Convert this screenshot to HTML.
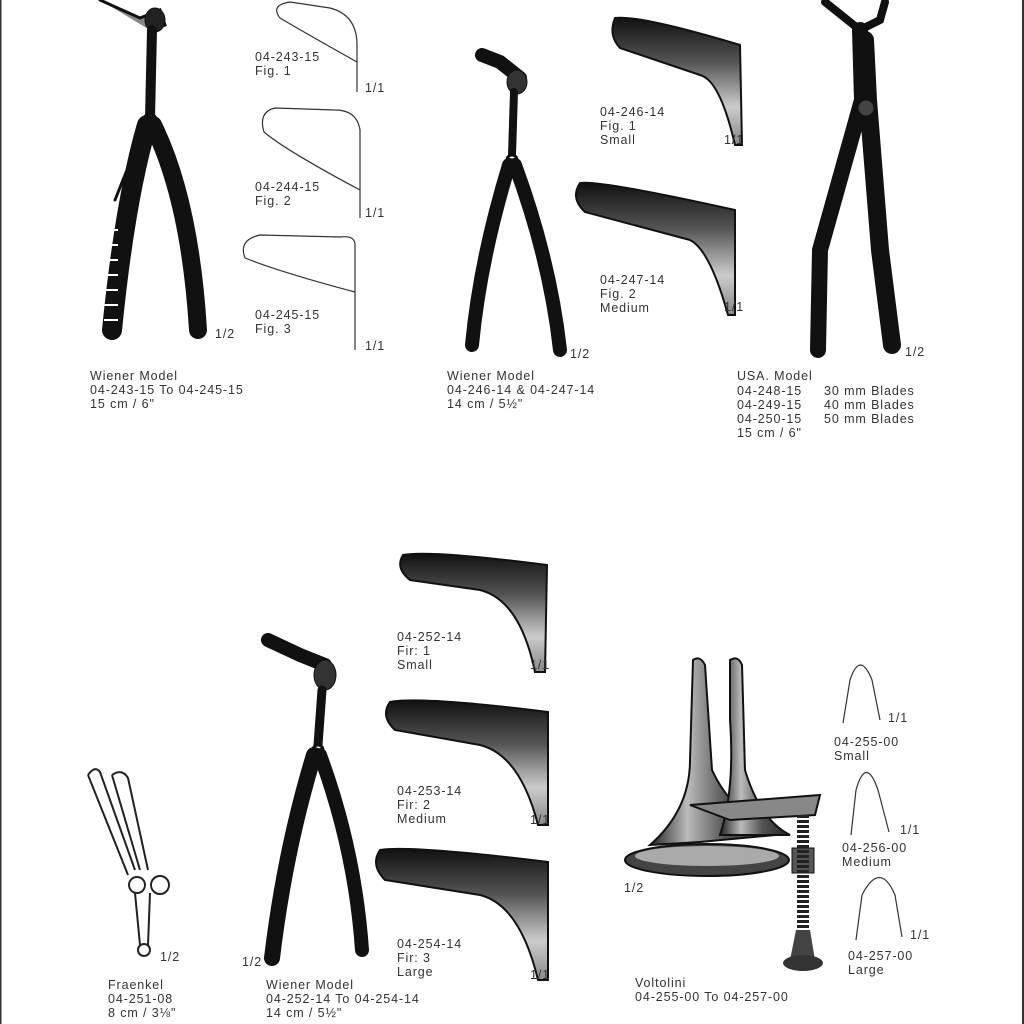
<!DOCTYPE html>
<html><head><meta charset="utf-8"><style>
html,body{margin:0;padding:0;background:#fff;}
svg{display:block}
text{font-family:"Liberation Sans",sans-serif;font-size:12.5px;letter-spacing:0.9px;fill:#333;}
</style></head><body>
<svg width="1024" height="1024" viewBox="0 0 1024 1024" xmlns="http://www.w3.org/2000/svg">
<defs>
<linearGradient id="bl" x1="0" y1="0" x2="0" y2="1">
<stop offset="0" stop-color="#111"/><stop offset="0.35" stop-color="#555"/><stop offset="0.7" stop-color="#ccc"/><stop offset="1" stop-color="#888"/>
</linearGradient>
<linearGradient id="cone" x1="0" y1="0" x2="1" y2="0">
<stop offset="0" stop-color="#222"/><stop offset="0.3" stop-color="#bbb"/><stop offset="0.6" stop-color="#555"/><stop offset="1" stop-color="#222"/>
</linearGradient>
</defs>
<rect x="0" y="0" width="1.5" height="1024" fill="#333"/>
<rect x="1022" y="0" width="2" height="1024" fill="#333"/>

<!-- Top-left Wiener -->
<g stroke="#111" fill="none" stroke-linecap="round">
<path d="M100,0 L140,18 L160,10 L165,25 L150,30" fill="#888" stroke-width="3"/>
<ellipse cx="155" cy="20" rx="10" ry="12" fill="#222"/>
<path d="M152,30 L150,118" stroke-width="10"/>
<circle cx="150" cy="120" r="6" fill="#fff" stroke-width="3"/>
<path d="M147,125 Q125,200 112,330" stroke-width="20"/>
<path d="M153,125 Q190,200 198,330" stroke-width="18"/>
<path d="M115,200 L125,175 L130,200" stroke-width="3"/>
</g>
<g stroke="#fff" stroke-width="2">
<path d="M104,230 h14 M104,245 h14 M104,260 h14 M104,275 h14 M104,290 h14 M104,305 h14 M104,320 h14"/>
</g>
<!-- Fig outlines -->
<g stroke="#333" fill="none" stroke-width="1.2">
<path d="M357,92 L357,45 Q357,15 330,8 L290,2 Q270,5 280,18 Q300,30 357,62"/>
<path d="M360,218 L360,130 Q357,110 335,110 L275,108 Q258,112 264,132 Q285,150 360,190"/>
<path d="M355,350 L355,245 Q355,235 340,237 L260,235 Q238,240 245,258 Q280,272 355,292"/>
</g>

<!-- Middle Wiener -->
<g stroke="#111" fill="none" stroke-linecap="round">
<path d="M482,55 L500,62 L520,78" stroke-width="14"/>
<ellipse cx="517" cy="82" rx="10" ry="12" fill="#333"/>
<path d="M514,92 L512,155" stroke-width="8"/>
<circle cx="512" cy="160" r="5" fill="#fff" stroke-width="3"/>
<path d="M509,165 Q480,260 472,345" stroke-width="14"/>
<path d="M515,165 Q550,260 560,350" stroke-width="14"/>
</g>
<!-- 246/247 blades -->
<path d="M615,18 Q640,15 740,45 L742,145 L735,145 Q720,80 700,75 L620,48 Q608,35 615,18 Z" fill="url(#bl)" stroke="#111" stroke-width="2"/>
<path d="M580,183 Q600,180 735,210 L735,315 L728,315 Q710,250 690,240 L585,212 Q570,198 580,183 Z" fill="url(#bl)" stroke="#111" stroke-width="2"/>

<!-- USA model -->
<g stroke="#111" fill="none" stroke-linecap="round">
<path d="M825,2 L860,30 L880,20 L885,2" stroke-width="8"/>
<path d="M860,30 L862,100 L820,250 L818,350" stroke-width="16"/>
<path d="M865,40 L868,100 L880,250 L892,345" stroke-width="18"/>
<circle cx="866" cy="108" r="9" fill="#444" stroke-width="3"/>
</g>

<!-- bottom blades -->
<path d="M403,555 Q430,550 547,565 L545,672 L535,672 Q520,600 480,590 L410,580 Q395,568 403,555 Z" fill="url(#bl)" stroke="#111" stroke-width="2"/>
<path d="M390,702 Q420,696 548,712 L548,825 L538,825 Q520,755 480,745 L395,730 Q380,716 390,702 Z" fill="url(#bl)" stroke="#111" stroke-width="2"/>
<path d="M380,850 Q410,845 548,862 L548,980 L538,980 Q520,905 480,895 L385,880 Q370,865 380,850 Z" fill="url(#bl)" stroke="#111" stroke-width="2"/>

<!-- bottom Wiener -->
<g stroke="#111" fill="none" stroke-linecap="round">
<path d="M268,640 L300,655 L325,665" stroke-width="14"/>
<ellipse cx="325" cy="675" rx="11" ry="15" fill="#333"/>
<path d="M322,690 L318,745" stroke-width="9"/>
<circle cx="318" cy="750" r="5" fill="#fff" stroke-width="3"/>
<path d="M314,755 Q285,850 272,958" stroke-width="16"/>
<path d="M320,755 Q355,850 362,950" stroke-width="14"/>
</g>

<!-- Fraenkel -->
<g stroke="#222" fill="none" stroke-width="2">
<path d="M88,775 Q95,765 100,772 L135,870 M112,775 Q122,768 128,778 L148,870"/>
<path d="M88,775 L128,875 M112,775 L140,870"/>
<circle cx="137" cy="885" r="8"/><circle cx="160" cy="885" r="9"/>
<path d="M135,893 L140,945 M150,893 L148,945"/>
<circle cx="144" cy="950" r="6"/>
</g>

<!-- Voltolini -->
<path d="M693,660 Q700,655 705,665 L712,770 Q730,810 775,835 L700,842 L650,845 Q690,810 690,760 Z" fill="url(#cone)" stroke="#111" stroke-width="2"/>
<path d="M730,660 Q738,655 742,665 L745,770 Q760,820 790,835 L720,835 Q735,790 730,720 Z" fill="url(#cone)" stroke="#111" stroke-width="2"/>
<path d="M690,805 L820,795 L815,815 L730,820 Z" fill="#888" stroke="#111" stroke-width="2"/>
<ellipse cx="707" cy="860" rx="82" ry="16" fill="#444" stroke="#111" stroke-width="2"/>
<ellipse cx="707" cy="856" rx="72" ry="10" fill="#aaa"/>
<rect x="792" y="848" width="22" height="25" fill="#555" stroke="#111"/>
<path d="M803,815 L803,950" stroke="#222" stroke-width="12" stroke-dasharray="3 2"/>
<path d="M796,930 L810,930 L815,960 L790,960 Z" fill="#444"/>
<ellipse cx="803" cy="963" rx="20" ry="8" fill="#333"/>

<!-- U shapes -->
<g stroke="#333" fill="none" stroke-width="1.2">
<path d="M843,723 L850,680 Q860,650 872,680 L880,720"/>
<path d="M851,835 L856,790 Q866,755 878,790 L889,832"/>
<path d="M856,940 L862,895 Q880,860 895,895 L902,937"/>
</g>

<!-- Text -->
<text x="255" y="61">04-243-15</text><text x="255" y="75">Fig. 1</text><text x="365" y="92">1/1</text>
<text x="255" y="191">04-244-15</text><text x="255" y="205">Fig. 2</text><text x="365" y="217">1/1</text>
<text x="255" y="319">04-245-15</text><text x="255" y="333">Fig. 3</text><text x="365" y="350">1/1</text>
<text x="215" y="338">1/2</text>
<text x="90" y="380">Wiener Model</text><text x="90" y="394">04-243-15 To 04-245-15</text><text x="90" y="408">15 cm / 6"</text>

<text x="600" y="116">04-246-14</text><text x="600" y="130">Fig. 1</text><text x="600" y="144">Small</text><text x="724" y="144">1/1</text>
<text x="600" y="284">04-247-14</text><text x="600" y="298">Fig. 2</text><text x="600" y="312">Medium</text><text x="724" y="311">1/1</text>
<text x="570" y="358">1/2</text>
<text x="447" y="380">Wiener Model</text><text x="447" y="394">04-246-14 &amp; 04-247-14</text><text x="447" y="408">14 cm / 5½"</text>

<text x="905" y="356">1/2</text>
<text x="737" y="380">USA. Model</text>
<text x="737" y="395">04-248-15</text><text x="824" y="395">30 mm Blades</text>
<text x="737" y="409">04-249-15</text><text x="824" y="409">40 mm Blades</text>
<text x="737" y="423">04-250-15</text><text x="824" y="423">50 mm Blades</text>
<text x="737" y="437">15 cm / 6"</text>

<text x="397" y="641">04-252-14</text><text x="397" y="655">Fir: 1</text><text x="397" y="669">Small</text><text x="530" y="669">1/1</text>
<text x="397" y="795">04-253-14</text><text x="397" y="809">Fir: 2</text><text x="397" y="823">Medium</text><text x="530" y="824">1/1</text>
<text x="397" y="948">04-254-14</text><text x="397" y="962">Fir: 3</text><text x="397" y="976">Large</text><text x="530" y="979">1/1</text>

<text x="242" y="966">1/2</text>
<text x="266" y="989">Wiener Model</text><text x="266" y="1003">04-252-14 To 04-254-14</text><text x="266" y="1017">14 cm / 5½"</text>
<text x="160" y="961">1/2</text>
<text x="108" y="989">Fraenkel</text><text x="108" y="1003">04-251-08</text><text x="108" y="1017">8 cm / 3⅛"</text>

<text x="624" y="892">1/2</text>
<text x="635" y="987">Voltolini</text><text x="635" y="1001">04-255-00 To 04-257-00</text>
<text x="888" y="722">1/1</text><text x="834" y="746">04-255-00</text><text x="834" y="760">Small</text>
<text x="900" y="834">1/1</text><text x="842" y="852">04-256-00</text><text x="842" y="866">Medium</text>
<text x="910" y="939">1/1</text><text x="848" y="960">04-257-00</text><text x="848" y="974">Large</text>
</svg>
</body></html>
